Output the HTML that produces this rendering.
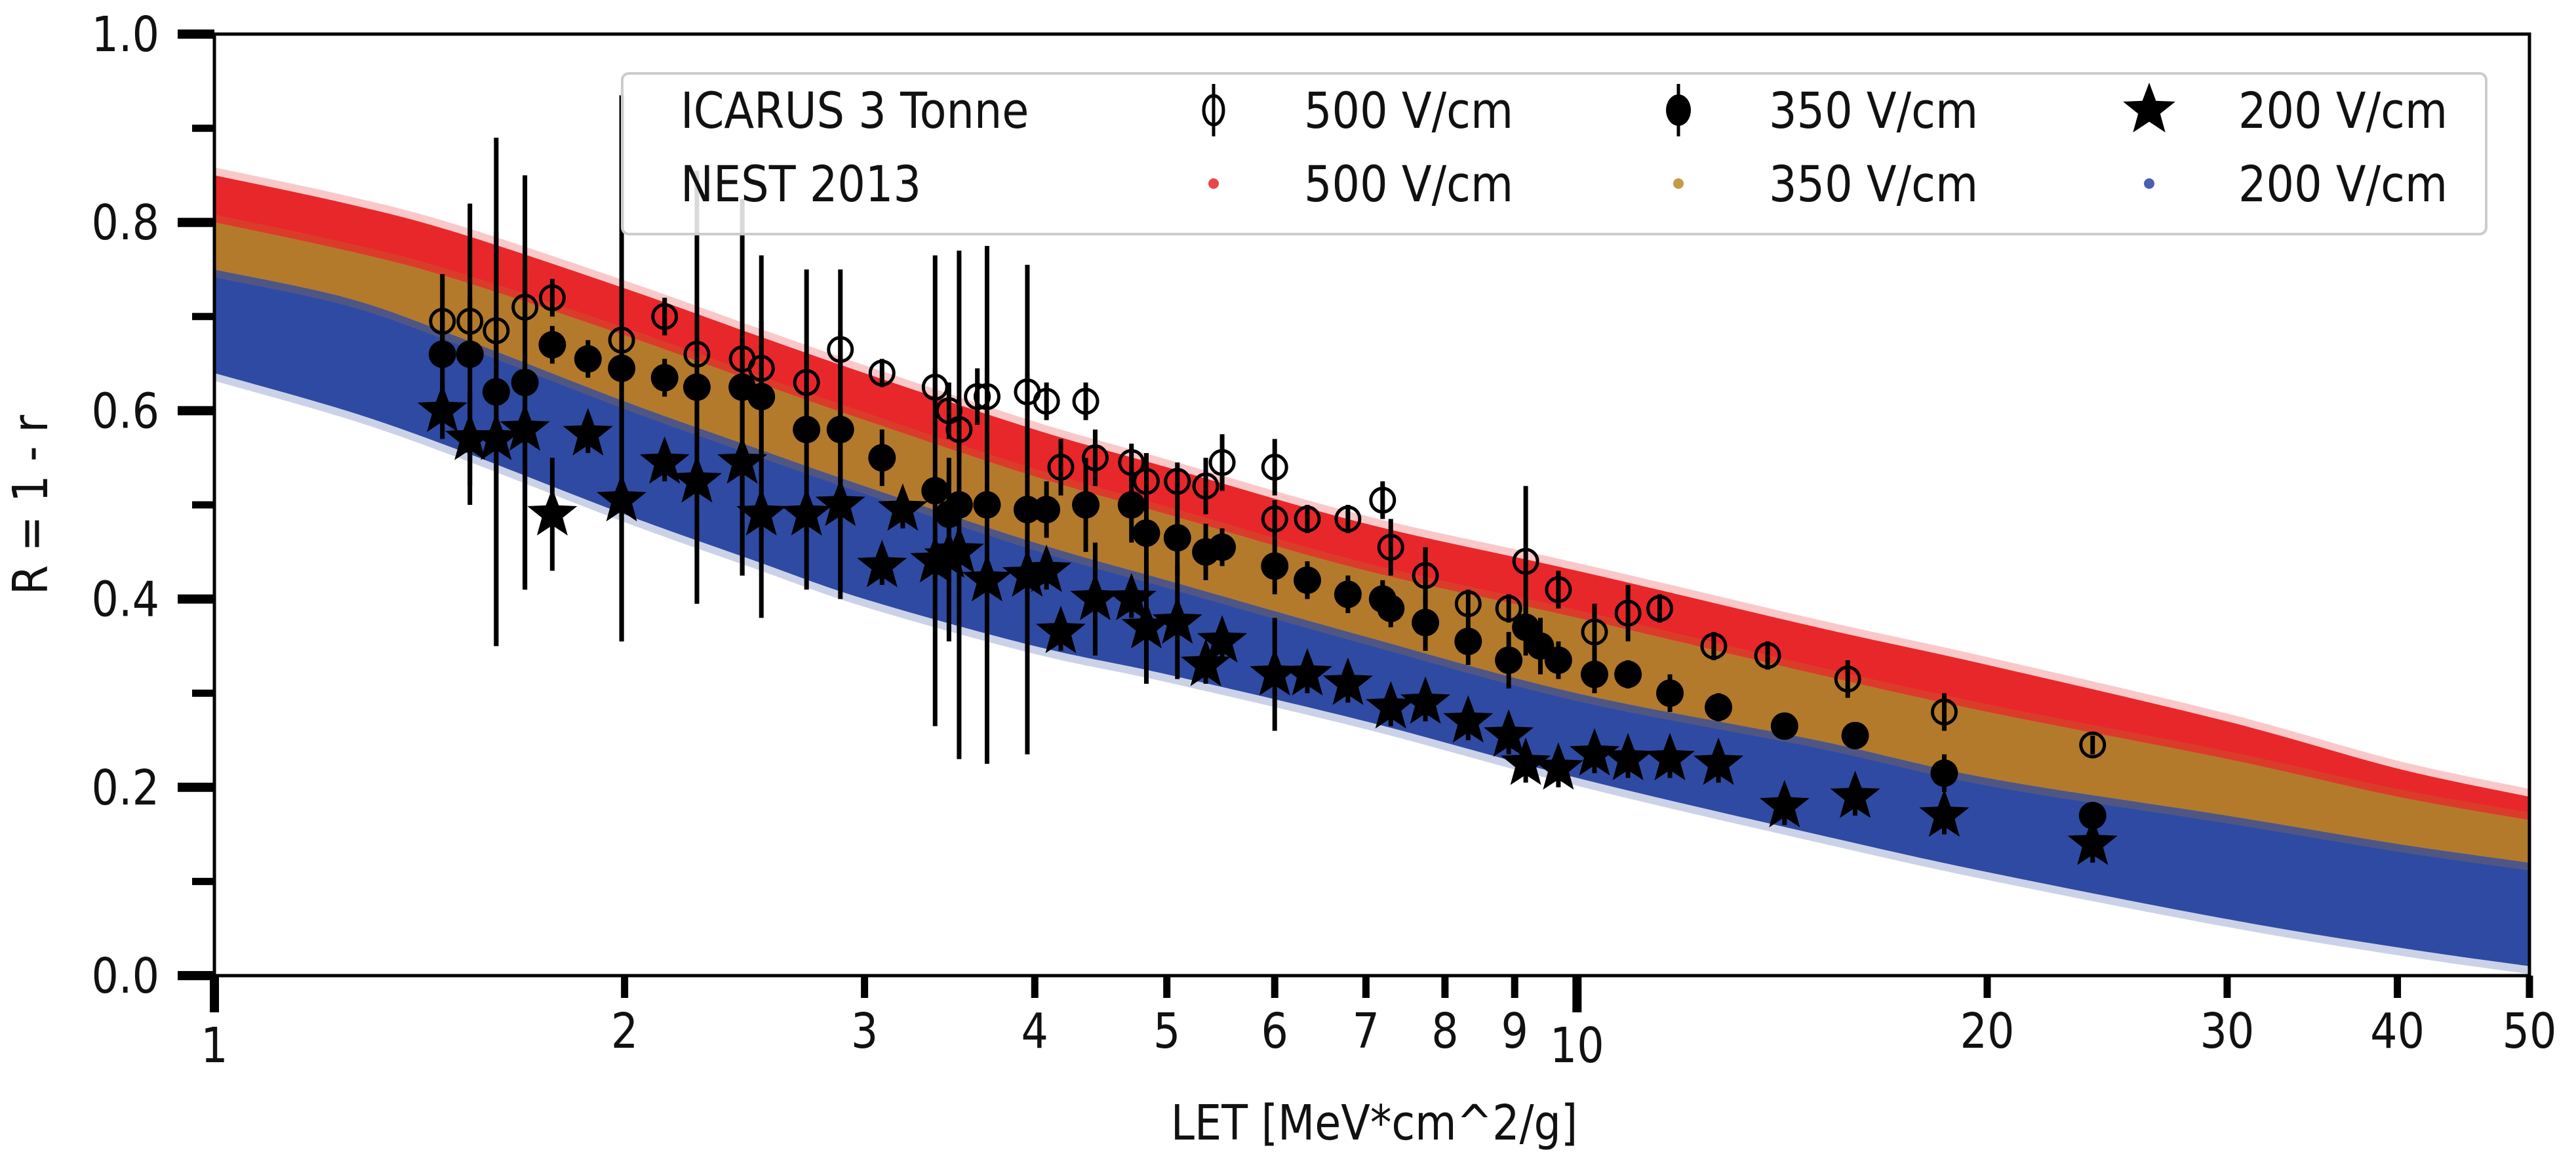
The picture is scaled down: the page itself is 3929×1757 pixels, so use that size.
<!DOCTYPE html>
<html><head><meta charset="utf-8"><style>html,body{margin:0;padding:0;background:#fff}svg{display:block}text{font-family:"DejaVu Sans","Liberation Sans",sans-serif;fill:#111}</style></head>
<body>
<svg id="chart" width="3929" height="1757" viewBox="0 0 3929 1757" xmlns="http://www.w3.org/2000/svg">
<g id="bands"></g>
<g id="pts"></g>
<g id="axes"></g>
<g id="legend"></g>
</svg>
<script>
const bandLET=[1,1.25,1.5,2,2.5,3,4,5,7,10,15,20,30,40,50];
const redTop=[0.85,0.82,0.79,0.73,0.68,0.64,0.58,0.54,0.48,0.43,0.37,0.33,0.27,0.22,0.19];
const redBot=[0.80,0.77,0.74,0.68,0.63,0.59,0.53,0.49,0.43,0.38,0.32,0.28,0.23,0.19,0.165];
const orangeBot=[0.75,0.72,0.68,0.61,0.56,0.52,0.46,0.42,0.36,0.30,0.25,0.21,0.17,0.14,0.12];
const blueBot=[0.64,0.60,0.56,0.49,0.44,0.40,0.35,0.32,0.27,0.21,0.15,0.11,0.06,0.03,0.01];

const let500=[1.47,1.54,1.61,1.69,1.77,1.99,2.14,2.26,2.44,2.52,2.72,2.88,3.09,3.38,3.46,3.52,3.63,3.69,3.95,4.08,4.18,4.36,4.43,4.71,4.83,5.09,5.34,5.49,6.0,6.0,6.34,6.79,7.2,7.3,7.74,8.32,8.91,9.17,9.69,10.3,10.9,11.5,12.6,13.8,15.8,18.6,23.9];
const r500=[0.695,0.695,0.685,0.71,0.72,0.675,0.70,0.66,0.655,0.645,0.63,0.665,0.64,0.625,0.60,0.58,0.615,0.615,0.62,0.61,0.54,0.61,0.55,0.545,0.525,0.525,0.52,0.545,0.54,0.485,0.485,0.485,0.505,0.455,0.425,0.395,0.39,0.44,0.41,0.365,0.385,0.39,0.35,0.34,0.315,0.28,0.245];
const e500=[0.05,0.025,0.02,0.02,0.02,0.01,0.02,0.02,0.02,0.05,0.03,0.02,0.015,0.02,0.03,0.03,0.03,0.03,0.02,0.02,0.03,0.02,0.03,0.02,0.03,0.02,0.03,0.03,0.03,0.02,0.015,0.015,0.02,0.03,0.03,0.015,0.015,0.08,0.02,0.03,0.03,0.015,0.015,0.015,0.02,0.02,0.01];

const let350=[1.47,1.54,1.61,1.69,1.77,1.88,1.99,2.14,2.26,2.44,2.52,2.72,2.88,3.09,3.38,3.46,3.52,3.69,3.95,4.08,4.36,4.71,4.83,5.09,5.34,5.49,6.0,6.34,6.79,7.2,7.3,7.74,8.32,8.91,9.17,9.4,9.69,10.3,10.9,11.7,12.7,14.2,16.0,18.6,23.9];
const r350=[0.66,0.66,0.62,0.63,0.67,0.655,0.645,0.635,0.625,0.625,0.615,0.58,0.58,0.55,0.515,0.49,0.50,0.50,0.495,0.495,0.50,0.50,0.47,0.465,0.45,0.455,0.435,0.42,0.405,0.40,0.39,0.375,0.355,0.335,0.37,0.35,0.335,0.32,0.32,0.30,0.285,0.265,0.255,0.215,0.17];
const e350=[0.05,0.16,0.27,0.22,0.02,0.02,0.29,0.02,0.23,0.2,0.15,0.17,0.17,0.03,0.25,0.06,0.27,0.275,0.26,0.03,0.05,0.04,0.05,0.04,0.03,0.02,0.03,0.02,0.02,0.02,0.02,0.03,0.025,0.03,0.03,0.03,0.02,0.02,0.015,0.02,0.015,0.01,0.01,0.02,0.01];

const let200=[1.47,1.54,1.61,1.69,1.77,1.88,1.99,2.14,2.26,2.44,2.52,2.72,2.88,3.09,3.2,3.38,3.46,3.52,3.69,3.95,4.08,4.18,4.43,4.71,4.83,5.09,5.34,5.49,6.0,6.34,6.79,7.3,7.74,8.32,8.91,9.17,9.69,10.3,10.9,11.7,12.7,14.2,16.0,18.6,23.9];
const r200=[0.60,0.57,0.57,0.58,0.49,0.575,0.505,0.545,0.525,0.545,0.49,0.49,0.50,0.435,0.495,0.44,0.445,0.45,0.42,0.425,0.43,0.365,0.40,0.40,0.37,0.375,0.33,0.355,0.32,0.32,0.31,0.285,0.29,0.27,0.255,0.225,0.22,0.235,0.23,0.23,0.225,0.18,0.19,0.17,0.14];
const e200=[0.03,0.05,0.22,0.17,0.06,0.02,0.15,0.02,0.13,0.12,0.11,0.02,0.1,0.02,0.02,0.02,0.09,0.02,0.02,0.02,0.02,0.02,0.06,0.02,0.06,0.06,0.02,0.02,0.06,0.02,0.02,0.02,0.02,0.02,0.02,0.02,0.02,0.02,0.02,0.02,0.02,0.02,0.02,0.02,0.02];

const yTicks=[0,0.2,0.4,0.6,0.8,1.0];
const yTickLabels=["0.0","0.2","0.4","0.6","0.8","1.0"];
const xTicks=[1,2,3,4,5,6,7,8,9,10,20,30,40,50];
const xTickLabels=["1","2","3","4","5","6","7","8","9","10","20","30","40","50"];

const NS="http://www.w3.org/2000/svg";
const X0=327,X1=3858,Y0=1488,Y1=52;
const sx=v=>X0+(Math.log10(v)/Math.log10(50))*(X1-X0);
const sy=v=>Y0-v*(Y0-Y1);
function mk(tag,attrs,parent){const e=document.createElementNS(NS,tag);for(const k in attrs)e.setAttribute(k,attrs[k]);parent.appendChild(e);return e;}
function txt(parent,x,y,s,anchor,size){const t=mk('text',{transform:`translate(${x},${y}) scale(0.88,1)`,'text-anchor':anchor,'font-size':size},parent);t.textContent=s;return t;}

function smooth(p,start){let d=start?'M'+p[0][0]+','+p[0][1]:'L'+p[0][0]+','+p[0][1];
  for(let i=0;i<p.length-1;i++){const p0=p[Math.max(0,i-1)],p1=p[i],p2=p[i+1],p3=p[Math.min(p.length-1,i+2)];
    const c1x=p1[0]+(p2[0]-p0[0])/6,c1y=p1[1]+(p2[1]-p0[1])/6,c2x=p2[0]-(p3[0]-p1[0])/6,c2y=p2[1]-(p3[1]-p1[1])/6;
    d+=`C${c1x.toFixed(1)},${c1y.toFixed(1)} ${c2x.toFixed(1)},${c2y.toFixed(1)} ${p2[0].toFixed(1)},${p2[1].toFixed(1)}`;}
  return d;}
const bands=document.getElementById('bands');
function band(top,bot,color,name){
  function path(off){
    const t=bandLET.map((v,i)=>[sx(v),sy(top[i])-off]);
    const b=bandLET.map((v,i)=>[sx(v),sy(bot[i])+off]).reverse();
    return smooth(t,true)+smooth(b,false)+'Z';
  }
  const ph=mk('path',{d:path(12),fill:color,opacity:0.25},bands);
  
  
  const p=mk('path',{d:path(0),fill:color},bands);
  
  
}
band(redTop,redBot,'#e8272a','nest-500-band');
band(orangeBot,blueBot,'#2f4aa2','nest-200-band');
band(redBot,orangeBot,'#b37a2c','nest-350-band');

const pg=document.getElementById('pts');
function err(x,y,e){const l=mk('line',{x1:sx(x),x2:sx(x),y1:sy(y-e),y2:sy(y+e),stroke:'#000','stroke-width':7},pg);
  
  }
function starPath(cx,cy,R){const r=R*0.42;let d='';for(let i=0;i<10;i++){const a=-Math.PI/2+i*Math.PI/5;const rr=i%2?r:R;d+=(i?'L':'M')+(cx+rr*Math.cos(a)).toFixed(1)+','+(cy+rr*Math.sin(a)).toFixed(1);}return d+'Z';}
for(let i=0;i<let200.length;i++){err(let200[i],r200[i],e200[i]);const s=mk('path',{d:starPath(sx(let200[i]),sy(r200[i]),40),fill:'#000'},pg);
  
  }
for(let i=0;i<let350.length;i++){err(let350[i],r350[i],e350[i]);const c=mk('circle',{cx:sx(let350[i]),cy:sy(r350[i]),r:21,fill:'#000'},pg);
  
  }
for(let i=0;i<let500.length;i++){err(let500[i],r500[i],e500[i]);const c=mk('circle',{cx:sx(let500[i]),cy:sy(r500[i]),r:18,fill:'none',stroke:'#000','stroke-width':5},pg);
  
  }

const ax=document.getElementById('axes');
const frame=mk('rect',{x:X0,y:Y1,width:X1-X0,height:Y0-Y1,fill:'none',stroke:'#000','stroke-width':5},ax);


for(let v=0;v<=10;v++){const y=sy(v/10);const major=v%2==0;mk('line',{x1:X0-(major?56:34),x2:X0,y1:y,y2:y,stroke:'#000','stroke-width':major?14:11},ax);}
yTicks.forEach((v,i)=>{const t=txt(ax,243,sy(v)+26,yTickLabels[i],'end',74);
  
  });
xTicks.forEach((v,i)=>{const x=sx(v);const major=(v==1||v==10);mk('line',{x1:x,x2:x,y1:Y0,y2:Y0+(major?56:34),stroke:'#000','stroke-width':major?14:11},ax);
  const t=txt(ax,x,major?1620:1598,xTickLabels[i],'middle',74);
  
  });
const xl=txt(ax,2096,1738,'LET [MeV*cm^2/g]','middle',74);


const yl=mk('text',{transform:'translate(72,770) rotate(-90) scale(0.88,1)','text-anchor':'middle','font-size':74},ax);yl.textContent='R = 1 - r';



const lg=document.getElementById('legend');
const lb=mk('rect',{x:949,y:112,width:2843,height:245,rx:10,fill:'#fff','fill-opacity':0.85,stroke:'#ccc','stroke-width':4},lg);


txt(lg,1038,195,'ICARUS 3 Tonne','start',76);
txt(lg,1038,307,'NEST 2013','start',76);
const row1=195-27,row2=307-27;
mk('line',{x1:1851,x2:1851,y1:row1-40,y2:row1+40,stroke:'#000','stroke-width':5},lg);
mk('ellipse',{cx:1851,cy:row1,rx:15,ry:22,fill:'none',stroke:'#000','stroke-width':5},lg);
mk('line',{x1:2560,x2:2560,y1:row1-40,y2:row1+40,stroke:'#000','stroke-width':5},lg);
mk('ellipse',{cx:2560,cy:row1,rx:19,ry:24,fill:'#000'},lg);
mk('path',{d:starPath(3278,row1,42),fill:'#000'},lg);
mk('circle',{cx:1851,cy:row2,r:8,fill:'#e8474a'},lg);
mk('circle',{cx:2560,cy:row2,r:8,fill:'#c49a45'},lg);
mk('circle',{cx:3278,cy:row2,r:8,fill:'#4a5fb0'},lg);
[[1989,195],[1989,307]].forEach(p=>txt(lg,p[0],p[1],'500 V/cm','start',76));
[[2698,195],[2698,307]].forEach(p=>txt(lg,p[0],p[1],'350 V/cm','start',76));
[[3414,195],[3414,307]].forEach(p=>txt(lg,p[0],p[1],'200 V/cm','start',76));
lg.querySelectorAll('text').forEach(t=>{});
</script>
</body></html>
